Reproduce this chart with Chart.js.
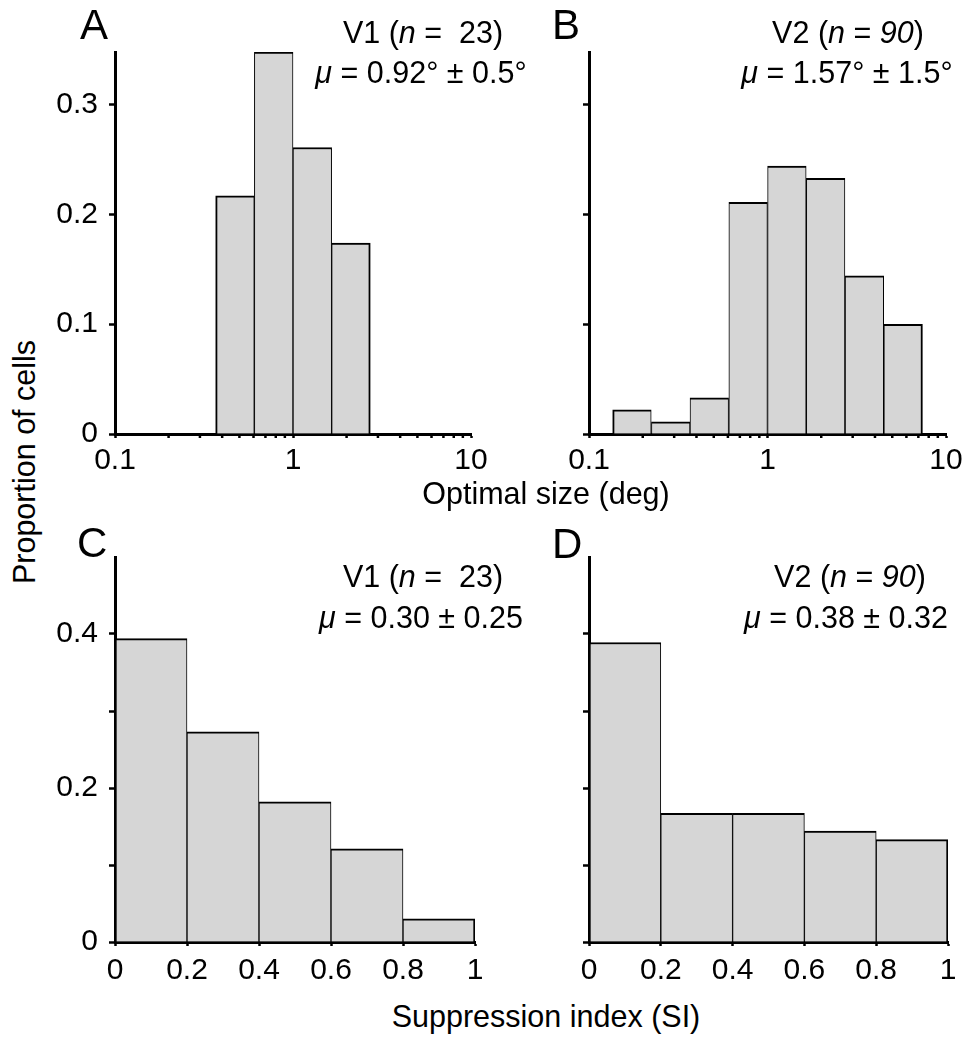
<!DOCTYPE html>
<html>
<head>
<meta charset="utf-8">
<script src="https://cdn.jsdelivr.net/npm/chart.js@4/dist/chart.umd.min.js"></script>
<style>
html,body{margin:0;padding:0;background:#fff;}
#fig{position:relative;width:976px;height:1050px;overflow:hidden;background:#fff;
  font-family:"Liberation Sans",Arial,Helvetica,sans-serif;color:#000;}
#fig canvas{position:absolute;}
.t{position:absolute;white-space:nowrap;line-height:1;font-size:30.5px;}
.c{transform:translateX(-50%);}
.L{font-size:42px;}
</style>
</head>
<body>
<div id="fig">
  <div class="t L" style="left:80px;top:4px;">A</div>
  <div class="t L" style="left:552px;top:4px;">B</div>
  <div class="t L" style="left:77px;top:522px;">C</div>
  <div class="t L" style="left:552px;top:523px;">D</div>

  <div class="t c" style="left:423px;top:17px;">V1 (<i>n</i> =&nbsp; 23)</div>
  <div class="t c" style="left:421px;top:57px;"><i>μ</i> = 0.92° ± 0.5°</div>
  <div class="t c" style="left:848px;top:17px;">V2 (<i>n</i> = <i>90</i>)</div>
  <div class="t c" style="left:847px;top:57px;"><i>μ</i> = 1.57° ± 1.5°</div>

  <div class="t c" style="left:423px;top:561px;">V1 (<i>n</i> =&nbsp; 23)</div>
  <div class="t c" style="left:421px;top:602px;"><i>μ</i> = 0.30 ± 0.25</div>
  <div class="t c" style="left:850px;top:561px;">V2 (<i>n</i> = <i>90</i>)</div>
  <div class="t c" style="left:846px;top:602px;"><i>μ</i> = 0.38 ± 0.32</div>

  <div class="t c" style="left:546px;top:478px;">Optimal size (deg)</div>
  <div class="t c" style="left:546px;top:1001px;">Suppression index (SI)</div>
  <div class="t" style="left:24px;top:462px;transform:translate(-50%,-50%) rotate(-90deg);">Proportion of cells</div>
</div>
<script>
// ---------- data ----------
// Panel A: V1 optimal size (log bins, centres in deg)
const sizeBinCentersA = [0.472, 0.779, 1.284, 2.117];
const sizePropV1 = [0.217, 0.348, 0.261, 0.174];
// Panel B: V2 optimal size
const sizeBinCentersB = [0.174, 0.287, 0.472, 0.779, 1.284, 2.117, 3.490, 5.755];
const sizePropV2 = [0.022, 0.011, 0.033, 0.211, 0.244, 0.233, 0.144, 0.100];
// Panels C, D: suppression index
const siBinCenters = [0.1, 0.3, 0.5, 0.7, 0.9];
const siPropV1 = [0.394, 0.273, 0.182, 0.121, 0.030];
const siPropV2 = [0.389, 0.167, 0.167, 0.144, 0.133];

// ticks
const logTicks = [0.1, 1, 10];
const logTickLabels = ['0.1', '1', '10'];
const logMinorTicks = [0.2, 0.3, 0.4, 0.5, 0.6, 0.7, 0.8, 0.9, 2, 3, 4, 5, 6, 7, 8, 9];
const siTicks = [0, 0.2, 0.4, 0.6, 0.8, 1];
const siTickLabels = ['0', '0.2', '0.4', '0.6', '0.8', '1'];
const yTicksTop = [0, 0.1, 0.2, 0.3];
const yLabelsTopA = ['0', '0.1', '0.2', '0.3'];
const yLabelsTopB = ['', '', '', ''];
const yTicksBottom = [0, 0.1, 0.2, 0.3, 0.4];
const yLabelsBottomC = ['0', '', '0.2', '', '0.4'];
const yLabelsBottomD = ['', '', '', '', ''];

// ---------- drawing ----------
Chart.defaults.font.family = '"Liberation Sans", Arial, Helvetica, sans-serif';
Chart.defaults.font.size = 30;
Chart.defaults.color = '#000';

const minorTicks = {
  id: 'minorTicks',
  afterDraw(chart, args, opts) {
    if (!opts || !opts.values) return;
    const xs = chart.scales.x, ctx = chart.ctx;
    ctx.save();
    ctx.strokeStyle = '#000';
    ctx.lineWidth = 2.5;
    opts.values.forEach(v => {
      const px = xs.getPixelForValue(v);
      ctx.beginPath();
      ctx.moveTo(px, xs.top);
      ctx.lineTo(px, xs.top + 4);
      ctx.stroke();
    });
    ctx.restore();
  }
};

const fig = document.getElementById('fig');

function makeHist(cfg) {
  const padTop = 25, padRight = 30, yW = 60, xH = 50;
  const left = cfg.area.l - yW, top = cfg.area.t - padTop;
  const w = cfg.area.r - left + padRight, h = cfg.area.b - top + xH;
  const cv = document.createElement('canvas');
  cv.width = w; cv.height = h;
  cv.style.left = left + 'px'; cv.style.top = top + 'px';
  cv.style.width = w + 'px'; cv.style.height = h + 'px';
  fig.insertBefore(cv, fig.firstChild);
  const n = cfg.values.length;
  new Chart(cv, {
    type: 'bar',
    data: {
      datasets: [{
        data: cfg.centers.map((c, i) => ({ x: c, y: cfg.values[i] })),
        backgroundColor: '#d6d6d6',
        borderColor: '#000',
        borderWidth: ctx => ({
          top: 2, bottom: 0,
          left: ctx.dataIndex === 0 ? 2 : 1,
          right: ctx.dataIndex === n - 1 ? 2 : 1
        }),
        borderSkipped: false,
        barPercentage: 1,
        categoryPercentage: 1
      }]
    },
    options: {
      responsive: false,
      maintainAspectRatio: false,
      animation: false,
      devicePixelRatio: 1,
      layout: { padding: { top: padTop, right: padRight, left: 0, bottom: 0 } },
      plugins: {
        legend: { display: false },
        tooltip: { enabled: false },
        minorTicks: { values: cfg.minor }
      },
      scales: {
        x: {
          type: cfg.log ? 'logarithmic' : 'linear',
          min: cfg.xMin, max: cfg.xMax,
          offset: false,
          z: 1,
          afterBuildTicks: s => { s.ticks = cfg.xTicks.map(v => ({ value: v })); },
          afterFit: s => { s.height = xH; },
          ticks: {
            callback: (v, i) => cfg.xLabels[i],
            autoSkip: false, maxRotation: 0, minRotation: 0,
            padding: cfg.xPad, color: '#000', font: { size: 30 }
          },
          grid: { display: true, drawOnChartArea: false, drawTicks: true, offset: false,
                  tickLength: 4, tickWidth: 2.5, tickColor: '#000', color: '#000' },
          border: { display: true, color: '#000', width: 3 }
        },
        y: {
          type: 'linear',
          min: 0, max: cfg.yMax,
          z: 1,
          afterBuildTicks: s => { s.ticks = cfg.yTicks.map(v => ({ value: v })); },
          afterFit: s => { s.width = yW; },
          ticks: {
            callback: (v, i) => cfg.yLabels[i],
            autoSkip: false, padding: 11, color: '#000', font: { size: 30 }
          },
          grid: { display: true, drawOnChartArea: false, drawTicks: true,
                  tickLength: 6, tickWidth: 2.5, tickColor: '#000', color: '#000' },
          border: { display: true, color: '#000', width: 3 }
        }
      }
    },
    plugins: [minorTicks]
  });
}

makeHist({ area: { l: 115, r: 471, t: 48, b: 434 }, log: true, xMin: 0.1, xMax: 10,
  centers: sizeBinCentersA, values: sizePropV1, xTicks: logTicks, xLabels: logTickLabels,
  minor: logMinorTicks, yMax: 0.348, yTicks: yTicksTop, yLabels: yLabelsTopA, xPad: 5 });
makeHist({ area: { l: 589, r: 946, t: 48, b: 434 }, log: true, xMin: 0.1, xMax: 10,
  centers: sizeBinCentersB, values: sizePropV2, xTicks: logTicks, xLabels: logTickLabels,
  minor: logMinorTicks, yMax: 0.348, yTicks: yTicksTop, yLabels: yLabelsTopB, xPad: 5 });
makeHist({ area: { l: 115, r: 475, t: 553, b: 942 }, log: false, xMin: 0, xMax: 1,
  centers: siBinCenters, values: siPropV1, xTicks: siTicks, xLabels: siTickLabels,
  minor: null, yMax: 0.5, yTicks: yTicksBottom, yLabels: yLabelsBottomC, xPad: 7 });
makeHist({ area: { l: 589, r: 948, t: 553, b: 942 }, log: false, xMin: 0, xMax: 1,
  centers: siBinCenters, values: siPropV2, xTicks: siTicks, xLabels: siTickLabels,
  minor: null, yMax: 0.5, yTicks: yTicksBottom, yLabels: yLabelsBottomD, xPad: 7 });
</script>
</body>
</html>
